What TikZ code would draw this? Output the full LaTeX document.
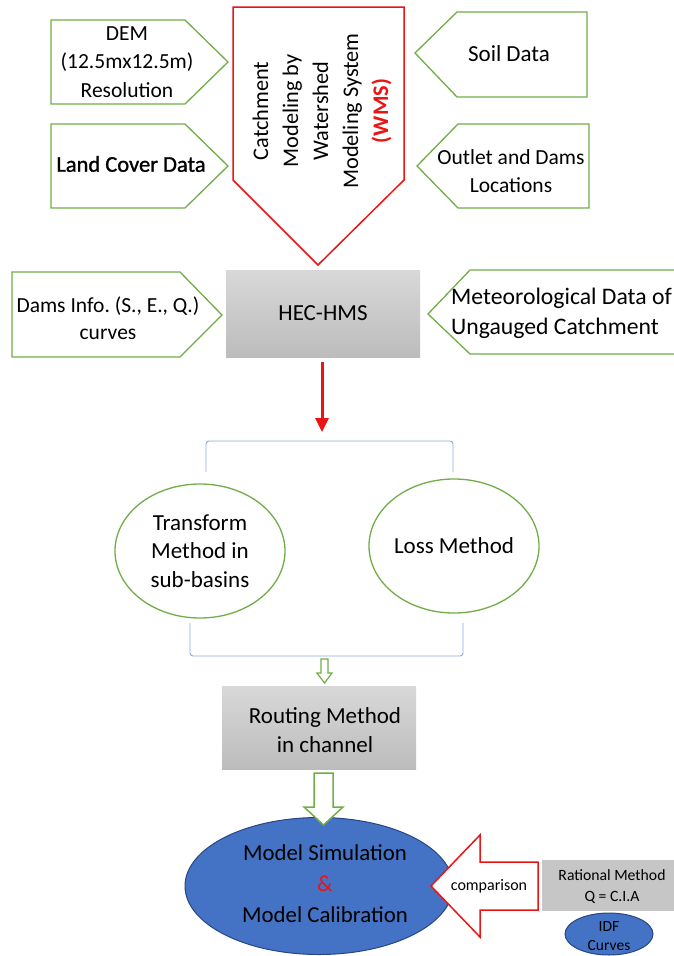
\documentclass[tikz,border=0pt]{standalone}
\usepackage{fontspec}
\setmainfont{Carlito}
\newfontfamily\semibold[FakeBold=1.2]{Carlito}
\frenchspacing
\usetikzlibrary{shapes.geometric,arrows.meta}
\definecolor{gr}{RGB}{112,173,71}
\definecolor{rd}{RGB}{235,20,20}
\definecolor{bl}{RGB}{68,114,196}
\definecolor{bldk}{RGB}{40,70,130}
\definecolor{brk}{RGB}{143,170,220}
\definecolor{gylt}{RGB}{216,216,216}
\definecolor{gydk}{RGB}{188,188,188}
\tikzset{
  greenshape/.style={draw=gr, line width=1.3pt, fill=white},
  redshape/.style={draw=rd, line width=1.5pt, fill=white},
  txt/.style={align=center, font=\fontsize{23}{28.5}\selectfont, inner sep=0pt},
  smalltxt/.style={align=center, font=\fontsize{15.7}{21}\selectfont, inner sep=0pt},
  graybox/.style={top color=gylt, bottom color=gydk, draw=none},
  greenell/.style={ellipse, draw=gr, line width=1.3pt, minimum width=170pt, minimum height=134pt, inner sep=0pt},
  bracket/.style={draw=brk, line width=0.9pt, rounded corners=3pt},
}
\begin{document}
\begin{tikzpicture}[x=1pt,y=-1pt]
\useasboundingbox (0,0) rectangle (673,956);
% top left pentagons
\draw[greenshape] (51,20) -- (185,20) -- (228,62) -- (185,104) -- (51,104) -- cycle;
\node[txt, font=\fontsize{21.5}{28.5}\selectfont] (dem) at (127,62) {DEM\\(12.5mx12.5m)\\Resolution};
\draw[greenshape] (51,124) -- (185,124) -- (228,166) -- (185,208) -- (51,208) -- cycle;
\node[txt, font=\semibold\fontsize{22.5}{28.5}\selectfont] (land) at (131,164) {Land Cover Data};
% WMS
\draw[redshape] (233,7) -- (404,7) -- (404,180) -- (318,265) -- (233,180) -- cycle;
\node[txt, rotate=90, font=\fontsize{22.3}{30}\selectfont] (wms) at (322,111)
  {Catchment\\Modeling by\\Watershed\\Modeling System\\{\color{rd}\bfseries (WMS)}};
% top right pentagons
\draw[greenshape] (415,53) -- (457,12) -- (587,12) -- (587,97) -- (457,97) -- cycle;
\node[txt] (soil) at (509,54) {Soil Data};
\draw[greenshape] (417,166) -- (458,124) -- (589,124) -- (589,208) -- (458,208) -- cycle;
\node[txt, font=\fontsize{21.5}{28.5}\selectfont] (outlet) at (511,171) {Outlet and Dams\\Locations};
% second row
\draw[greenshape] (12,272) -- (180,272) -- (222,315) -- (180,357) -- (12,357) -- cycle;
\node[txt, font=\fontsize{21.5}{27}\selectfont] (dams) at (108,318) {Dams Info. (S., E., Q.)\\curves};
\node[graybox, minimum width=194pt, minimum height=87pt, inner sep=0pt] (hec) at (323,313.5) {};
\node[txt] at (hec.center) {HEC-HMS};
\draw[greenshape] (428,314) -- (470,270) -- (690,270) -- (690,354) -- (470,354) -- cycle;
\node[txt, align=left, anchor=west, font=\fontsize{23.7}{30}\selectfont] (met) at (451,313) {Meteorological Data of\\Ungauged Catchment};
% red arrow
\coordinate (brtop) at (322,432);
\draw[rd, line width=3pt, -{Triangle[width=13pt,length=14pt]}] ([yshift=-5pt]hec.south -| brtop) -- (brtop);
% brackets
\draw[bracket] (206,472) -- (206,441) -- (453,441) -- (453,472);
\node[greenell, txt] (trans) at (200,551) {Transform\\Method in\\sub-basins};
\node[greenell, txt] (loss) at (454,546) {Loss Method};
\draw[bracket] (190,623) -- (190,656) -- (463,656) -- (463,623);
% routing box and small hollow arrow
\node[graybox, minimum width=194pt, minimum height=83pt, inner sep=0pt] (rout) at (319,727.5) {};
\node[txt] at (325,730) {Routing Method\\in channel};
\draw[greenshape, line width=1.2pt] (321,659) -- (328,659) -- (328,673) -- (332,673) -- (324.5,683) -- (317,673) -- (321,673) -- cycle;
% model ellipse and big hollow arrow
\node[ellipse, fill=bl, draw=bldk, line width=1pt, minimum width=268pt, minimum height=137pt, inner sep=0pt] (model) at (319,886) {};
\draw[greenshape, line width=1.5pt] (314,773) -- (333,773) -- (333,807) -- (343,807) -- (323.5,825) -- (304,807) -- (314,807) -- cycle;
\node[txt, font=\fontsize{22.8}{31}\selectfont] at (325,884) {Model Simulation\\{\color{rd}\&}\\Model Calibration};
% comparison arrow
\draw[redshape] (431,886) -- (480,835) -- (480,862) -- (538,862) -- (538,910) -- (480,910) -- (480,937) -- cycle;
\node[smalltxt, font=\fontsize{16}{18}\selectfont] (comp) at (489,886) {comparison};
% rational
\node[fill=gydk!85!white, minimum width=140pt, minimum height=51pt, inner sep=0pt] (rat) at (612,885.5) {};
\node[smalltxt] at (612,887) {Rational Method\\Q = C.I.A};
\node[ellipse, fill=bl, draw=bldk, line width=1pt, minimum width=88pt, minimum height=42pt, inner sep=0pt] (idf) at (609,934) {};
\node[align=center, inner sep=0pt, font=\fontsize{15.5}{19}\selectfont] at (609,936) {IDF\\Curves};
\end{tikzpicture}
\end{document}
